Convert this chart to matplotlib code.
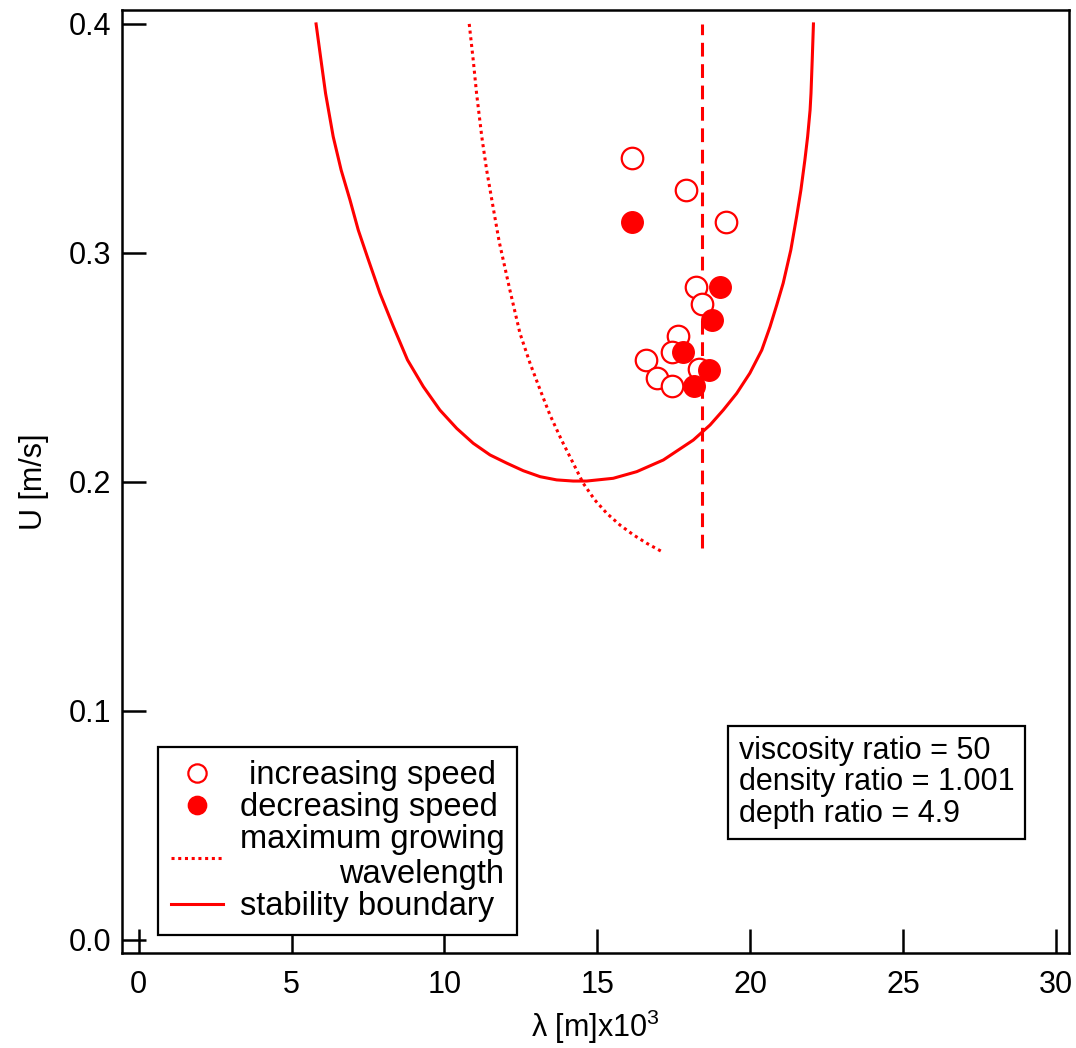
import numpy as np
import matplotlib.pyplot as plt

plt.rcParams['font.family'] = ['Liberation Sans', 'DejaVu Sans']
plt.rcParams['mathtext.fontset'] = 'custom'
plt.rcParams['mathtext.rm'] = 'Liberation Sans'

# measured points
inc_x = [16.14, 17.90, 19.20, 18.24, 18.42, 17.63, 17.45, 16.58, 16.94, 17.45, 18.33]
inc_u = [0.3416, 0.3275, 0.3134, 0.2852, 0.2776, 0.2639, 0.2566, 0.2531, 0.2456, 0.2420, 0.2493]
dec_x = [16.14, 19.02, 18.76, 17.80, 18.66, 18.15]
dec_u = [0.3134, 0.2852, 0.2706, 0.2566, 0.2490, 0.2420]

# stability boundary
stab_x = [5.80, 5.96, 6.11, 6.36, 6.62, 6.91, 7.18, 7.49, 7.89, 8.33, 8.79, 9.31, 9.85, 10.40,
          10.94, 11.49, 12.04, 12.58, 13.13, 13.67, 14.21, 14.65, 15.52, 16.29, 17.16, 18.14,
          18.69, 19.12, 19.56, 19.99, 20.38, 20.65, 20.87, 21.08, 21.33, 21.52, 21.66, 21.79,
          21.88, 21.96, 21.99, 22.03, 22.07]
stab_u = [0.400, 0.3843, 0.3697, 0.3508, 0.3362, 0.3231, 0.3100, 0.2978, 0.2824, 0.2678, 0.2533,
          0.2416, 0.2314, 0.2234, 0.2169, 0.2118, 0.2082, 0.2049, 0.2023, 0.2009, 0.2004, 0.2004,
          0.2016, 0.2045, 0.2096, 0.2183, 0.2249, 0.2314, 0.2387, 0.2475, 0.2576, 0.2678, 0.2773,
          0.2868, 0.3013, 0.3159, 0.3275, 0.3406, 0.3508, 0.3624, 0.3697, 0.3843, 0.400]

# maximum growing wavelength
mg_x = [10.81, 10.94, 11.05, 11.22, 11.38, 11.55, 11.79, 12.14, 12.47, 12.80, 13.13, 13.45,
        13.83, 14.21, 14.54, 14.92, 15.31, 15.74, 16.18, 16.62, 17.11]
mg_u = [0.400, 0.3843, 0.3697, 0.3508, 0.3362, 0.3231, 0.3049, 0.2838, 0.2649, 0.2518, 0.2402,
        0.2293, 0.2183, 0.2082, 0.1994, 0.1921, 0.1863, 0.1812, 0.1769, 0.1732, 0.1696]

# critical wavelength (vertical dashed)
crit_x = 18.42
crit_u = [0.171, 0.400]

red = '#ff0000'
fig = plt.figure(figsize=(10.76, 10.48), dpi=100)
ax = fig.add_axes([0.1134, 0.0906, 0.8801, 0.8999])

ax.plot(mg_x, mg_u, color=red, lw=2.2, ls=(0, (1, 1.2)), label='maximum growing\nwavelength')
ax.plot(stab_x, stab_u, color=red, lw=2.2, label='stability boundary')
ax.plot([crit_x, crit_x], crit_u, color=red, lw=2.2, ls=(0, (4.5, 2.5)))
ax.plot(inc_x, inc_u, 'o', ms=15.5, mfc='white', mec=red, mew=1.6, ls='none', label=' increasing speed')
ax.plot(dec_x, dec_u, 'o', ms=15.5, mfc=red, mec=red, ls='none', label='decreasing speed')

ax.set_xlim(-0.548, 30.43)
ax.set_ylim(-0.0057, 0.4061)
ax.set_xticks([0, 5, 10, 15, 20, 25, 30])
ax.set_yticks([0.0, 0.1, 0.2, 0.3, 0.4])
ax.set_yticklabels(['0.0', '0.1', '0.2', '0.3', '0.4'])
ax.tick_params(direction='in', length=17, width=1.8, labelsize=22)
ax.tick_params(axis='x', pad=12)
ax.tick_params(axis='y', pad=8)
for s in ax.spines.values():
    s.set_linewidth(1.8)

ax.set_xlabel('\u03bb [m]x10$^{\\mathrm{3}}$', fontsize=22, labelpad=6)
ax.set_ylabel('U [m/s]', fontsize=22, labelpad=14)

h, l = ax.get_legend_handles_labels()
order = [2, 3, 0, 1]
leg = ax.legend([h[i] for i in order], [l[i] for i in order], loc='lower left',
                bbox_to_anchor=(0.038, 0.019), borderaxespad=0, fontsize=23.5,
                fancybox=False, edgecolor='black', framealpha=1, labelspacing=0.02,
                handlelength=1.6, handletextpad=0.5, borderpad=0.4, markerscale=0.85)
leg.get_frame().set_linewidth(1.6)
leg.get_texts()[2].set_multialignment('right')

ax.text(0.651, 0.132, 'viscosity ratio = 50\ndensity ratio = 1.001\ndepth ratio = 4.9',
        transform=ax.transAxes, fontsize=22, va='bottom', ha='left', linespacing=1.05,
        bbox=dict(boxstyle='square,pad=0.35', fc='white', ec='black', lw=1.6))

fig.savefig('out.png', dpi=100)
